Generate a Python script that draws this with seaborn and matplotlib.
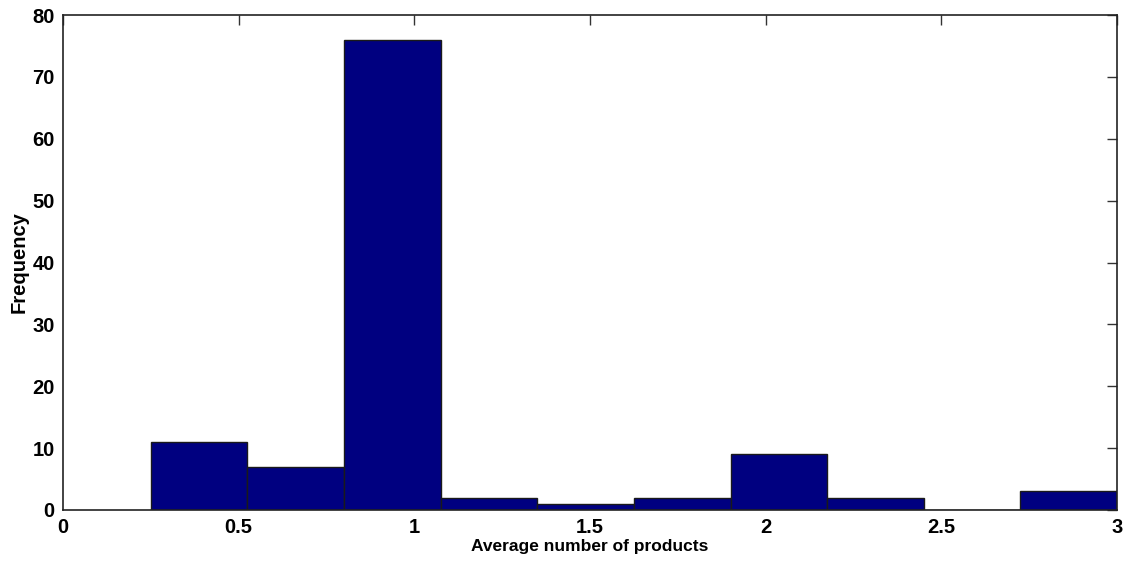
import matplotlib
matplotlib.use("Agg")
import matplotlib.pyplot as plt
import seaborn as sns
import numpy as np

# Histogram of average number of products per customer
bin_edges = [0.25, 0.525, 0.8, 1.075, 1.35, 1.625, 1.9, 2.175, 2.45, 2.725, 3.0]
frequencies = [11, 7, 76, 2, 1, 2, 9, 2, 0, 3]
x_ticks = [0, 0.5, 1, 1.5, 2, 2.5, 3]
x_tick_labels = ["0", "0.5", "1", "1.5", "2", "2.5", "3"]
y_ticks = [0, 10, 20, 30, 40, 50, 60, 70, 80]

sns.set_style("white")
plt.rcParams["font.family"] = ["Liberation Sans", "DejaVu Sans"]
plt.rcParams["font.weight"] = "bold"

fig = plt.figure(figsize=(11.32, 5.69), dpi=100)
ax = fig.add_axes([0.0557, 0.1037, 0.9310, 0.8699])

centers = [(a + b) / 2 for a, b in zip(bin_edges[:-1], bin_edges[1:])]
sns.histplot(x=centers, weights=frequencies, bins=bin_edges, ax=ax,
             color="#000080", alpha=1.0, edgecolor="#1a1a1a", linewidth=1.0)

ax.set_xlim(0, 3)
ax.set_ylim(0, 80)
ax.set_xticks(x_ticks)
ax.set_xticklabels(x_tick_labels)
ax.set_yticks(y_ticks)
ax.tick_params(direction="in", length=7, width=1, top=True, right=True,
               labelsize=14.5, pad=6, colors="#333333", labelcolor="black")
for lbl in ax.get_xticklabels() + ax.get_yticklabels():
    lbl.set_fontweight("bold")
for s in ax.spines.values():
    s.set_visible(True)
    s.set_color("#222222")
    s.set_linewidth(1.2)

ax.set_xlabel("Average number of products", fontsize=12.5, fontweight="bold",
              labelpad=1, color="black")
ax.set_ylabel("Frequency", fontsize=14.5, fontweight="bold", labelpad=3,
              color="black")

fig.savefig("out.png", dpi=100)
